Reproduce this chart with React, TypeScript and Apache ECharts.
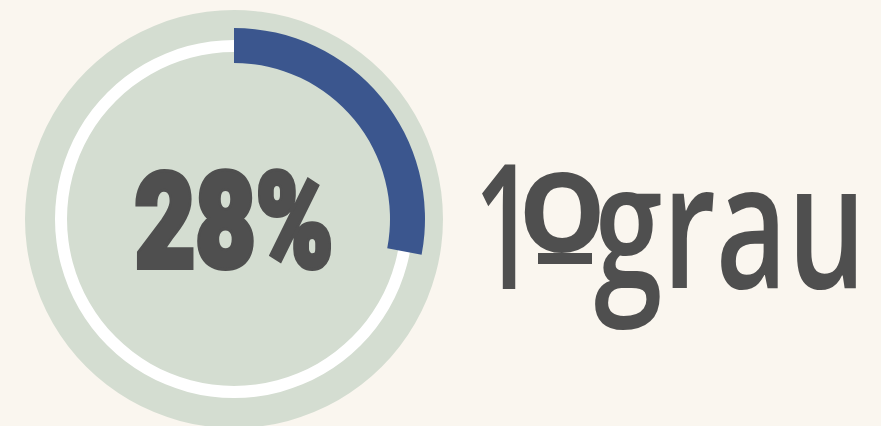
import React, { useEffect, useRef } from "react";
import * as echarts from "echarts";

const percentValue = 28;
const remainderValue = 100 - percentValue;
const centerLabel = "28%";
const sideLabel = "1ºgrau";

export default function App() {
  const ref = useRef<HTMLDivElement>(null);
  useEffect(() => {
    document.body.style.margin = "0";
    const chart = echarts.init(ref.current!, null, { renderer: "svg" });
    const cx = 234;
    const cy = 219;
    const ink = "#4f4f4f";
    const sideNum = sideLabel.slice(0, 1);
    const sideOrd = sideLabel.slice(1, 2);
    const sideWord = sideLabel.slice(2);
    chart.setOption({
      animation: false,
      backgroundColor: "#faf6ef",
      series: [
        {
          type: "pie",
          silent: true,
          center: [cx, cy],
          radius: [0, 209],
          label: { show: false },
          labelLine: { show: false },
          emphasis: { disabled: true },
          data: [{ value: 1, itemStyle: { color: "#d4ddd1" } }],
        },
        {
          type: "pie",
          silent: true,
          center: [cx, cy],
          radius: [167, 179],
          label: { show: false },
          labelLine: { show: false },
          emphasis: { disabled: true },
          data: [{ value: 1, itemStyle: { color: "#ffffff" } }],
        },
        {
          type: "pie",
          silent: true,
          center: [cx, cy],
          radius: [156, 191],
          startAngle: 90,
          clockwise: true,
          label: { show: false },
          labelLine: { show: false },
          emphasis: { disabled: true },
          data: [
            { value: percentValue, itemStyle: { color: "#3b568e" } },
            { value: remainderValue, itemStyle: { color: "rgba(0,0,0,0)" } },
          ],
        },
      ],
      graphic: [
        {
          type: "text",
          z: 100,
          x: 234,
          y: 222,
          scaleX: 0.79,
          style: {
            text: centerLabel,
            fill: ink,
            stroke: ink,
            lineWidth: 6,
            lineJoin: "round",
            font: "900 132px Roboto",
            align: "center",
            verticalAlign: "middle",
          },
        },
        {
          type: "text",
          z: 100,
          x: 474,
          y: 221,
          scaleX: 0.62,
          style: {
            text: sideNum,
            fill: ink,
            font: "600 174px 'Open Sans'",
            align: "left",
            verticalAlign: "middle",
          },
        },
        {
          type: "text",
          z: 100,
          x: 562,
          y: 250,
          scaleX: 1.0,
          style: {
            text: sideOrd,
            fill: ink,
            font: "600 233px 'Open Sans'",
            align: "center",
            verticalAlign: "middle",
          },
        },
        {
          type: "rect",
          z: 100,
          shape: { x: 538, y: 253, width: 54, height: 11 },
          style: { fill: ink },
        },
        {
          type: "text",
          z: 100,
          x: 594,
          y: 221,
          scaleX: 0.71,
          style: {
            text: sideWord,
            fill: ink,
            font: "600 174px 'Open Sans'",
            align: "left",
            verticalAlign: "middle",
          },
        },
      ],
    });
    return () => chart.dispose();
  }, []);
  return (
    <div
      ref={ref}
      style={{ position: "fixed", left: 0, top: 0, width: 881, height: 426 }}
    />
  );
}
